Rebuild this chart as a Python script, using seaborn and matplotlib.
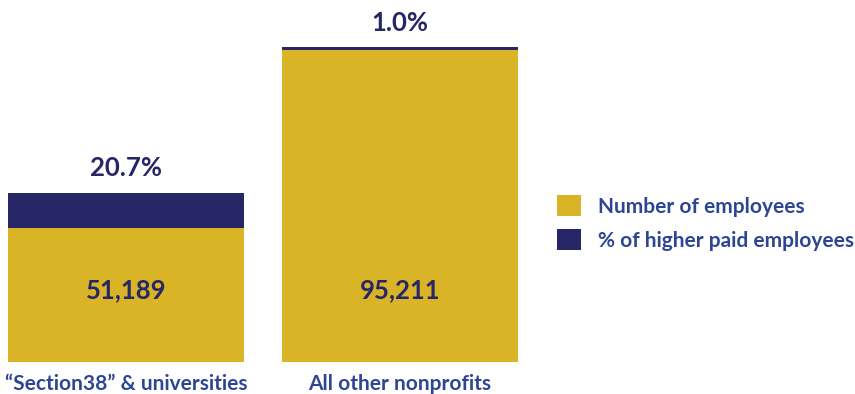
import matplotlib
matplotlib.use("Agg")
import matplotlib.pyplot as plt
from matplotlib.patches import Patch
from matplotlib.transforms import blended_transform_factory
import seaborn as sns
import pandas as pd

# Data
categories = ["\u201cSection38\u201d & universities", "All other nonprofits"]
employees = [51189, 95211]
higher_paid_pct = [20.7, 1.0]
legend_labels = ["Number of employees", "% of higher paid employees"]

GOLD = "#D9B427"
NAVY = "#272667"
LABEL_BLUE = "#2E4593"

sns.set_theme(style="white")
plt.rcParams["font.family"] = ["Lato", "DejaVu Sans"]
plt.rcParams["font.weight"] = "bold"

df = pd.DataFrame({
    "category": categories,
    "employees": employees,
    "pct": higher_paid_pct,
})
df["lower_part"] = df["employees"] * (1 - df["pct"] / 100)

fig = plt.figure(figsize=(8.55, 3.94), dpi=100)
ax = fig.add_axes([8 / 855, 32 / 394, 510 / 855, 362 / 394])

# Full bar in navy, then the gold share drawn over it from the baseline
sns.barplot(data=df, x="category", y="employees", color=NAVY, width=0.861,
            saturation=1, ax=ax, edgecolor="none")
sns.barplot(data=df, x="category", y="lower_part", color=GOLD, width=0.861,
            saturation=1, ax=ax, edgecolor="none")

ax.set_xlim(-0.4305, 1.4305)
ax.set_ylim(0, 95211 * 362 / 315)
ax.set_xlabel("")
ax.set_ylabel("")
ax.set_yticks([])
sns.despine(ax=ax, left=True, bottom=True)
ax.tick_params(axis="x", length=0, pad=9, labelsize=15, labelcolor=LABEL_BLUE)
for t in ax.get_xticklabels():
    t.set_fontweight("bold")

trans = blended_transform_factory(ax.transData, ax.transAxes)
for i, row in df.iterrows():
    ax.text(i, 0.199, f"{row['employees']:,}", transform=trans,
            ha="center", va="center", fontsize=18.5, fontweight="bold", color=NAVY)
    ax.annotate(f"{row['pct']:.1f}%", xy=(i, row["employees"]),
                xytext=(0, 17.5), textcoords="offset points",
                ha="center", va="center", fontsize=18.5, fontweight="bold",
                color=NAVY)

handles = [Patch(facecolor=GOLD, edgecolor="none"),
           Patch(facecolor=NAVY, edgecolor="none")]
leg = fig.legend(handles, legend_labels, loc="center left",
                 bbox_to_anchor=(557 / 855, (394 - 223) / 394),
                 frameon=False, fontsize=15, handlelength=1.15,
                 handleheight=1.15, handletextpad=0.8, labelspacing=0.6,
                 borderaxespad=0, borderpad=0)
for t in leg.get_texts():
    t.set_color(LABEL_BLUE)
    t.set_fontweight("bold")

fig.savefig("out.png", dpi=100)
